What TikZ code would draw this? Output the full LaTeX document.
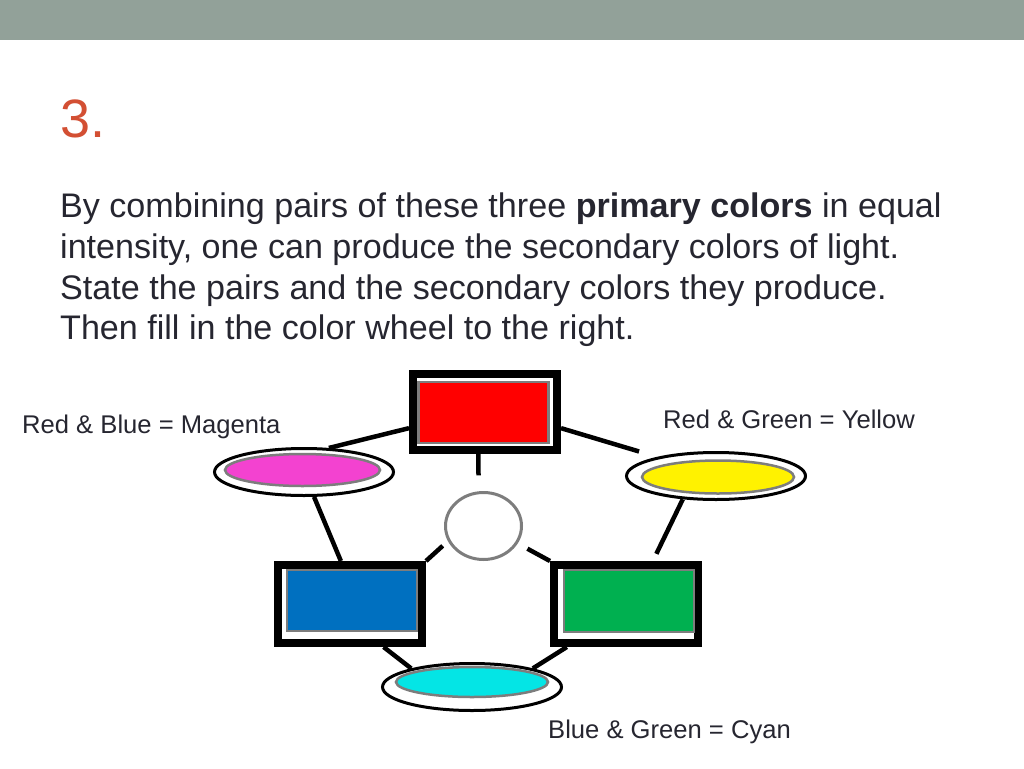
\documentclass[tikz,border=0pt]{standalone}
\usepackage{fontspec}
\setmainfont{Liberation Sans}
\usepackage{tikz}
\usetikzlibrary{shapes.geometric}
\usetikzlibrary{positioning}
\definecolor{barcol}{RGB}{146,161,153}
\definecolor{titlecol}{RGB}{211,79,51}
\definecolor{textcol}{RGB}{38,38,48}
\definecolor{swatchgray}{RGB}{125,125,125}
\definecolor{bluecol}{RGB}{0,112,192}
\definecolor{greencol}{RGB}{0,176,80}
\definecolor{magcol}{RGB}{243,66,208}
\definecolor{cyancol}{RGB}{4,229,229}
\tikzstyle{frame} = [draw=black, line width=8pt, fill=white, rectangle, minimum width=144pt, minimum height=78pt, inner sep=0pt]
\tikzstyle{swatch} = [draw=swatchgray, line width=2.5pt, rectangle, minimum width=130pt, minimum height=61pt, inner sep=0pt]
\tikzstyle{ring} = [draw=black, line width=3pt, fill=white, ellipse, minimum width=179pt, minimum height=47pt, inner sep=0pt]
\tikzstyle{spot} = [draw=swatchgray, line width=2.5pt, ellipse, minimum width=154pt, minimum height=32pt, inner sep=0pt]
\tikzstyle{link} = [line width=4.5pt]
\tikzstyle{body} = [text=textcol, font=\fontsize{34.1}{40.7}\selectfont, inner sep=0pt, anchor=base west]
\tikzstyle{mixtext} = [text=textcol, font=\fontsize{25.6}{30}\selectfont, inner sep=0pt, anchor=base west]

\begin{document}
\begin{tikzpicture}[x=1pt,y=-1pt]
            \useasboundingbox (0,0) rectangle (1024,768);
            \fill[white] (0,0) rectangle (1024,768);
            \fill[barcol] (0,0) rectangle (1024,40);
            \node[text=titlecol, font=\fontsize{54}{60}\selectfont, inner sep=0pt, anchor=base west] (num) at (60,137) {3.};
            \foreach \txt [count=\i] in {{By combining pairs of these three \textbf{primary colors} in equal}, {intensity, one can produce the secondary colors of light.}, State the pairs and the secondary colors they produce., Then fill in the color wheel to the right.}
                \node[body] (line\i) at (60,177+40.7*\i) {\txt};
            \node[mixtext] (magtext) at (22,433) {Red \& Blue = Magenta};
            \node[mixtext] (yeltext) at (663,428) {Red \& Green = Yellow};
            \node[mixtext] (cyantext) at (548,738) {Blue \& Green = Cyan};

            \node[frame, minimum height=76pt] (redbox) at (485,412) {};
            \node[swatch, fill=red] (redfill) at (483.5,412.5) {};
            \node[frame] (bluebox) at (350,604) {};
            \node[swatch, fill=bluecol] (bluefill) at (352,600.5) {};
            \node[frame] (greenbox) at (626,604) {};
            \node[swatch, fill=greencol, minimum height=62pt] (greenfill) at (629,601) {};
            \node[ring] (magring) at (304,472) {};
            \node[spot, fill=magcol, minimum width=155pt] (magfill) at (302.5,470) {};
            \node[ring] (yelring) at (716,476) {};
            \node[spot, fill=yellow, minimum width=152pt, minimum height=33pt] (yelfill) at (718,477) {};
            \node[ring] (cyanring) at (472,687) {};
            \node[spot, fill=cyancol, minimum width=152pt, minimum height=30pt] (cyanfill) at (472,682) {};
            \node[ellipse, draw=swatchgray, line width=3pt, minimum width=76pt, minimum height=67pt, inner sep=0pt] (wheel) at (483.5,526) {};

            \draw [link] (redbox.192) -- (magring.44);
            \draw [link, shorten >=19pt] (redbox.-12) -- (yelring.162);
            \draw [link, shorten >=16pt] (redbox.261) -- (wheel.98);
            \draw [link, shorten <=7pt] (wheel.203) -- (bluebox.north east);
            \draw [link, shorten <=11pt] (wheel.-27) -- (greenbox.north west);
            \draw [link] (bluebox.102) -- (magring.-68);
            \draw [link, shorten <=8pt] (greenbox.58) -- (yelring.215);
            \draw [link] (bluebox.-52) -- (cyanring.163);
            \draw [link] (greenbox.216) -- (cyanring.17);
        \end{tikzpicture}
\end{document}
